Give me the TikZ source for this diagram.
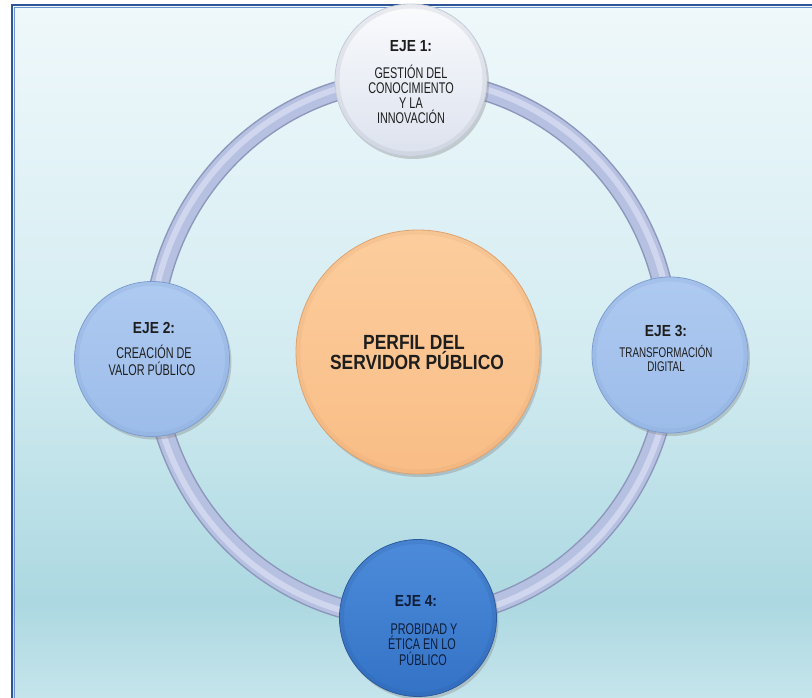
\documentclass[tikz,border=0pt]{standalone}
\usepackage{fontspec}
\setmainfont{Liberation Sans}
\newfontfamily\bodyfont{Liberation Sans}[FakeStretch=0.7]
\newfontfamily\headfont{Liberation Sans}[FakeStretch=0.86]
\newfontfamily\centerfont{Liberation Sans}[FakeStretch=0.85]
\usetikzlibrary{shadows}
\definecolor{frameblue}{HTML}{2E5597}
\definecolor{framelight}{HTML}{6F93CC}
\definecolor{bgtop}{HTML}{EFF8FB}
\definecolor{bgmid}{HTML}{D3ECF1}
\definecolor{bgdark}{HTML}{ACD8E1}
\definecolor{bgbot}{HTML}{C6E5EC}
\definecolor{ringdark}{HTML}{8D97BB}
\definecolor{ringmid}{HTML}{B6C0E1}
\definecolor{ringlight}{HTML}{CFD6EE}
\definecolor{topA}{HTML}{FAFBFD}
\definecolor{topB}{HTML}{DCE2EE}
\definecolor{topEdge}{HTML}{C3CADA}
\definecolor{sideA}{HTML}{AECAF1}
\definecolor{sideB}{HTML}{9CBCE9}
\definecolor{sideEdge}{HTML}{7C9CCF}
\definecolor{botA}{HTML}{4D8BDA}
\definecolor{botB}{HTML}{3472C6}
\definecolor{botEdge}{HTML}{2A5A9C}
\definecolor{cenA}{HTML}{FCCD9D}
\definecolor{cenB}{HTML}{F9BD86}
\definecolor{cenEdge}{HTML}{DDA26E}
\definecolor{txt}{HTML}{1E1E1E}
\definecolor{txtdark}{HTML}{0E1E38}
\tikzset{
  disc/.style={circle, inner sep=0pt, line width=0.8pt,
    drop shadow={opacity=0.35, shadow xshift=2pt, shadow yshift=-3pt}},
  bevel/.style={line width=4pt, opacity=0.18},
  headtxt/.style={anchor=base, inner sep=0pt, font=\headfont\bfseries\fontsize{16}{16}\selectfont, text=txt},
  bodytxt/.style={anchor=base, inner sep=0pt, font=\bodyfont\fontsize{15.5}{15}\selectfont, text=txt},
  centertxt/.style={anchor=base, inner sep=0pt, font=\centerfont\bfseries\fontsize{20.5}{20}\selectfont, text=txt}
}
\begin{document}
\begin{tikzpicture}[x=1pt,y=-1pt]
\useasboundingbox (0,0) rectangle (812,698);
\clip (0,0) rectangle (812,698);
\fill[white] (0,0) rectangle (812,698);
% background bands
\foreach \yy in {4,7,...,697}{
  \ifdim \yy pt<350pt
    \pgfmathtruncatemacro\tt{(\yy-4)/3.46}\colorlet{bandc}{bgmid!\tt!bgtop}
  \else\ifdim \yy pt<600pt
    \pgfmathtruncatemacro\tt{(\yy-350)/2.5}\colorlet{bandc}{bgdark!\tt!bgmid}
  \else
    \pgfmathtruncatemacro\tt{min(100,(\yy-600)/0.98)}\colorlet{bandc}{bgbot!\tt!bgdark}
  \fi\fi
  \fill[bandc] (11,\yy) rectangle (815,\yy+3.6);
}
\draw[frameblue, line width=2.4pt] (12.2,700) -- (12.2,5.2) -- (815,5.2);
\draw[framelight, line width=0.8pt] (14.5,700) -- (14.5,7.5) -- (815,7.5);
% ring
\coordinate (rc) at (411,349);
\draw[ringdark, line width=20pt] (rc) ellipse [x radius=259, y radius=269];
\draw[ringmid, line width=17pt] (rc) ellipse [x radius=259, y radius=269];
\draw[ringlight, line width=6pt] (rc) ellipse [x radius=261, y radius=271];
% circles
\node[disc, minimum size=152pt, draw=topEdge, top color=topA, bottom color=topB] (e1) at (411,80) {};
\node[disc, minimum size=155pt, draw=sideEdge, top color=sideA, bottom color=sideB] (e2) at (152,359) {};
\node[disc, minimum size=156pt, draw=sideEdge, top color=sideA, bottom color=sideB] (e3) at (670,355) {};
\node[disc, minimum size=157pt, draw=botEdge, top color=botA, bottom color=botB] (e4) at (418,618) {};
\node[disc, minimum size=244pt, draw=cenEdge, top color=cenA, bottom color=cenB] (c) at (418,352) {};
% soft bevel inside the edges
\draw[bevel, topEdge!80!black] (e1.center) circle [radius=73.5];
\draw[bevel, sideEdge] (e2.center) circle [radius=75];
\draw[bevel, sideEdge] (e3.center) circle [radius=75.5];
\draw[bevel, botEdge] (e4.center) circle [radius=76];
\draw[bevel, cenEdge] (c.center) circle [radius=119.5];
% texts eje 1
\node[headtxt] (h1) at (411,52) {EJE 1:};
\node[bodytxt] (b1a) at (411,79) {GESTIÓN DEL};
\node[bodytxt] (b1b) at (411,94) {CONOCIMIENTO};
\node[bodytxt] (b1c) at (411,109) {Y LA};
\node[bodytxt] (b1d) at (411,124) {INNOVACIÓN};
% eje 2
\node[headtxt] (h2) at (154,333) {EJE 2:};
\node[bodytxt] (b2a) at (154,358) {CREACIÓN DE};
\node[bodytxt] (b2b) at (152,375) {VALOR PÚBLICO};
% eje 3
\node[headtxt] (h3) at (666,336) {EJE 3:};
\node[bodytxt, font=\bodyfont\fontsize{14}{14}\selectfont] (b3a) at (666,357) {TRANSFORMACIÓN};
\node[bodytxt, font=\bodyfont\fontsize{14}{14}\selectfont] (b3b) at (666,371) {DIGITAL};
% eje 4
\node[headtxt, text=txtdark] (h4) at (416,606) {EJE 4:};
\node[bodytxt, text=txtdark] (b4a) at (424,634) {PROBIDAD Y};
\node[bodytxt, text=txtdark] (b4b) at (422,649) {ÉTICA EN LO};
\node[bodytxt, text=txtdark] (b4c) at (423,665) {PÚBLICO};
% center
\node[centertxt] (p1) at (414,349) {PERFIL DEL};
\node[centertxt] (p2) at (417,369) {SERVIDOR PÚBLICO};
\end{tikzpicture}
\end{document}
